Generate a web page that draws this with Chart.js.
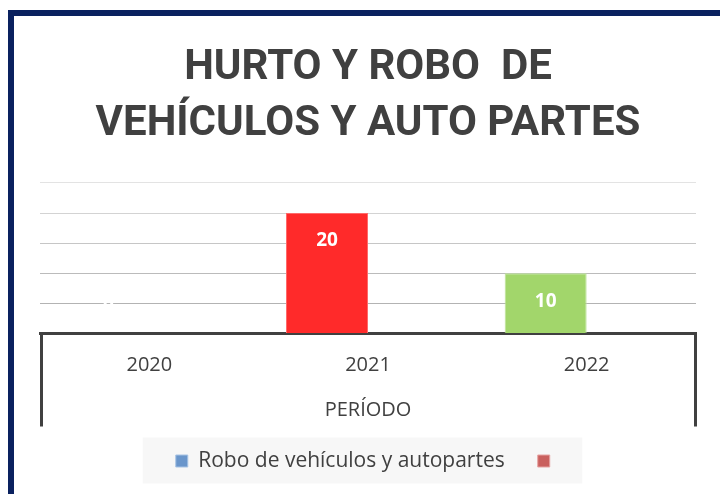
<!DOCTYPE html>
<html lang="es">
<head>
<meta charset="utf-8">
<title>Hurto y robo de vehículos y auto partes</title>
<script src="https://cdn.jsdelivr.net/npm/chart.js@4.4.1/dist/chart.umd.min.js"></script>
<style>
  html, body { margin: 0; padding: 0; background: #fff; overflow: hidden; }
  #wrap { position: relative; width: 720px; height: 494px; }
  #frame {
    position: absolute; left: 8px; top: 10px; right: -20px; bottom: -20px;
    border: 6px solid #0a215f; pointer-events: none;
  }
</style>
</head>
<body>
<div id="wrap">
  <canvas id="chart" width="720" height="494"></canvas>
  <div id="frame"></div>
</div>
<script>
const TITLE_LINES = ['HURTO Y ROBO  DE', 'VEHÍCULOS Y AUTO PARTES'];
const YEARS = ['2020', '2021', '2022'];
const ROBO = [0, 20, 10];
// second series has a legend entry but no values
const SERIE_2 = [null, null, null];
const SERIES_LABELS = ['Robo de vehículos y autopartes', ''];
const BAR_COLORS = ['#6a96cb', '#ff2a2a', '#a2d66b'];
const BAR_BORDERS = ['#9dbde0', '#ff6a6a', '#bce299'];
const LEGEND_COLORS = ['#6a96cb', '#c9605e'];
const LEGEND_BORDERS = ['#a7c3e4', '#e6a3a2'];
const Y_MAX = 25;
const Y_STEP = 5;

const TEXT = '#404040';
// lines fade out towards the top of the plot
const GRID_SHADES = ['rgba(0,0,0,0)', '#b3b3b3', '#bbbbbb', '#c6c6c6', '#d3d3d3', '#e3e3e3'];

// light grey panel behind the legend entries
const legendPanel = {
    id: 'legend_panel',
    beforeDraw: (chart) => {
        const boxes = chart.legend.legendHitBoxes;
        if (!boxes || !boxes.length) return;
        const first = boxes[0];
        const last = boxes[boxes.length - 1];
        const ctx = chart.ctx;
        ctx.save();
        ctx.fillStyle = '#f7f7f7';
        const x0 = first.left - 33;
        const x1 = last.left + last.width + 22;
        const y0 = first.top - 13;
        ctx.fillRect(x0, y0, x1 - x0, 46);
        ctx.restore();
    }
};

// long end ticks that box in the category axis
const axisEdges = {
    id: 'axis_edges',
    afterDraw: (chart) => {
        const x = chart.scales.x;
        const ctx = chart.ctx;
        ctx.save();
        ctx.strokeStyle = TEXT;
        ctx.lineWidth = 3;
        ctx.beginPath();
        [x.left + 1.5, x.right - 0.5].forEach(px => {
            ctx.moveTo(px, x.top - 1);
            ctx.lineTo(px, x.top + 93);
        });
        ctx.stroke();
        ctx.restore();
    }
};

// value labels written inside the top of each bar
const valueLabels = {
    id: 'value_labels',
    afterDatasetsDraw: (chart) => {
        const ctx = chart.ctx;
        const meta = chart.getDatasetMeta(0);
        ctx.save();
        ctx.font = 'bold 19px "Open Sans"';
        ctx.fillStyle = '#ffffff';
        ctx.textAlign = 'center';
        ctx.textBaseline = 'middle';
        meta.data.forEach((bar, i) => {
            const v = ROBO[i];
            if (v === null) return;
            const y = v > 0 ? bar.y + 28 : bar.y - 30;
            ctx.fillText(String(v), bar.x, y);
        });
        ctx.restore();
    }
};

new Chart(document.getElementById('chart'), {
    type: 'bar',
    data: {
        labels: YEARS,
        datasets: [
            {
                label: SERIES_LABELS[0],
                data: ROBO,
                backgroundColor: BAR_COLORS,
                borderColor: BAR_BORDERS,
                borderWidth: 1,
            },
            {
                label: SERIES_LABELS[1],
                data: SERIE_2,
                backgroundColor: LEGEND_COLORS[1],
            },
        ],
    },
    options: {
        animation: false,
        responsive: false,
        events: [],
        layout: { padding: { left: 40, right: 24, top: 0, bottom: 12.5 } },
        datasets: { bar: { categoryPercentage: 0.75, barPercentage: 1.0 } },
        plugins: {
            tooltip: { enabled: false },
            title: {
                display: true,
                text: TITLE_LINES,
                color: TEXT,
                font: { family: 'Roboto', weight: 'bold', size: 42, lineHeight: 1.345 },
                padding: { top: 40, bottom: 30 },
            },
            legend: {
                position: 'bottom',
                labels: {
                    color: TEXT,
                    font: { family: 'Open Sans', size: 21 },
                    boxWidth: 12,
                    boxHeight: 12,
                    padding: 33,
                    generateLabels: (chart) => chart.data.datasets.map((ds, i) => ({
                        text: ds.label,
                        fillStyle: LEGEND_COLORS[i],
                        strokeStyle: LEGEND_BORDERS[i],
                        lineWidth: 1,
                        fontColor: TEXT,
                        hidden: false,
                        datasetIndex: i,
                    })),
                },
            },
        },
        scales: {
            x: {
                offset: true,
                border: { display: true, color: TEXT, width: 3 },
                grid: { display: true, drawOnChartArea: false, drawTicks: false },
                ticks: {
                    color: TEXT,
                    font: { family: 'Open Sans', size: 20 },
                    padding: 19.5,
                },
                title: {
                    display: true,
                    text: 'PERÍODO',
                    color: TEXT,
                    font: { family: 'Open Sans', size: 20 },
                    padding: { top: 2, bottom: -5 },
                },
            },
            y: {
                min: 0,
                max: Y_MAX,
                border: { display: false },
                grid: {
                    drawTicks: false,
                    lineWidth: 1,
                    color: (ctx) => GRID_SHADES[ctx.index] || '#d9d9d9',
                },
                ticks: { display: false, stepSize: Y_STEP },
            },
        },
    },
    plugins: [legendPanel, axisEdges, valueLabels],
});
</script>
</body>
</html>
